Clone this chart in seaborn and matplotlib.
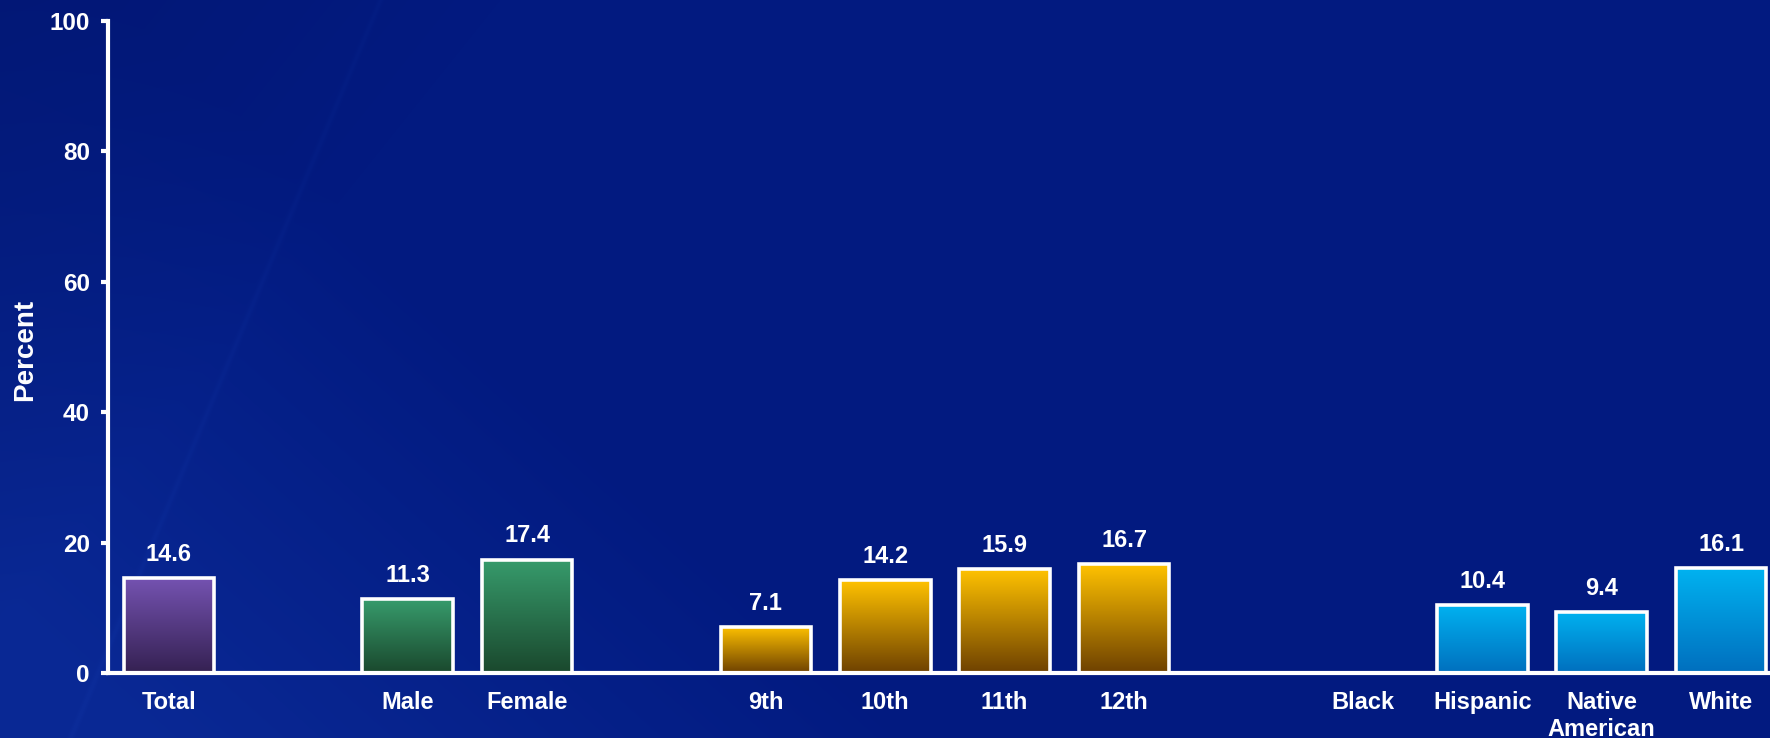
import numpy as np
import pandas as pd
import matplotlib
matplotlib.use("Agg")
import matplotlib.pyplot as plt
from matplotlib.colors import to_rgb
import seaborn as sns

# data
categories = ["Total", "", "Male", "Female", " ", "9th", "10th", "11th", "12th", "  ",
              "Black", "Hispanic", "Native\nAmerican", "White"]
values = [14.6, None, 11.3, 17.4, None, 7.1, 14.2, 15.9, 16.7, None,
          None, 10.4, 9.4, 16.1]
groups = ["total", None, "sex", "sex", None, "grade", "grade", "grade", "grade", None,
          "race", "race", "race", "race"]
yticks = [0, 20, 40, 60, 80, 100]

# top / bottom colours of the bar gradients
grad = {
    "total": ("#7553b2", "#352152"),
    "sex": ("#379b6c", "#1a482d"),
    "grade": ("#ffc200", "#6e4100"),
    "race": ("#00b2f0", "#006fbe"),
}

df = pd.DataFrame({"cat": categories, "pct": values, "grp": groups}).dropna()

sns.set_style("white")
plt.rcParams["font.family"] = ["Liberation Sans", "DejaVu Sans"]
plt.rcParams["font.weight"] = "bold"

fig = plt.figure(figsize=(17.7, 7.38), dpi=100)

# background: dark blue with a lighter diagonal area at lower left
bg = fig.add_axes([0, 0, 1, 1], zorder=-5)
H, W = 738, 1770
yy, xx = np.mgrid[0:H, 0:W]
base = np.array(to_rgb("#021a80"))
light = np.array(to_rgb("#0b2b98"))
dark = np.array(to_rgb("#02156e"))
v = yy - 0.9 * xx
t = np.clip((v + 100) / 700, 0, 1) * 0.85
streak = np.exp(-((xx - (380 - 0.42 * yy)) / 3.0) ** 2) * 0.2
t = np.clip(t + streak, 0, 1)[..., None]
tl = (np.clip(1 - (xx + 0.8 * yy) / 500, 0, 1) * 0.6)[..., None]
img = base * (1 - t) + light * t
img = img * (1 - tl) + dark * tl
bg.imshow(img, aspect="auto", extent=[0, 1, 0, 1])
bg.set_axis_off()

ax = fig.add_axes([108 / 1770, 65 / 738, 1 - 108 / 1770, 652 / 738])
ax.set_facecolor("none")
sns.barplot(data=df, x="cat", y="pct", order=categories, width=0.76,
            color="#ffffff", edgecolor="white", linewidth=2.6, ax=ax, zorder=3)

for p in ax.patches:
    x0, w, h = p.get_x(), p.get_width(), p.get_height()
    idx = int(round(x0 + w / 2))
    top, bot = grad[groups[idx]]
    c = np.linspace(0, 1, 100)[:, None, None]
    g = np.array(to_rgb(top)) * (1 - c) + np.array(to_rgb(bot)) * c
    im = ax.imshow(g, extent=[x0, x0 + w, 0, h], aspect="auto", zorder=2, origin="upper")
    im.set_clip_path(p)
    p.set_facecolor("none")
    ax.annotate(f"{values[idx]:.1f}", (x0 + w / 2, h), xytext=(0, 17),
                textcoords="offset points", ha="center", va="center",
                color="white", fontsize=17, fontweight="bold")

ax.set_xlim(-0.51, 13.41)
ax.set_ylim(0, 100)
ax.set_yticks(yticks)
ax.set_xticks(range(len(categories)))
ax.set_xticklabels(categories)
ax.set_xlabel("")
ax.set_ylabel("Percent", color="white", fontsize=20, fontweight="bold")
ax.yaxis.set_label_coords(-0.042, 0.495)

for s in ["top", "right"]:
    ax.spines[s].set_visible(False)
for s in ["left", "bottom"]:
    ax.spines[s].set_color("white")
    ax.spines[s].set_linewidth(3)
    ax.spines[s].set_zorder(4)

ax.tick_params(axis="y", colors="white", labelsize=17.5, length=5, width=3,
               pad=8, left=True)
ax.tick_params(axis="x", colors="white", labelsize=17, length=0, pad=13)
for lab in ax.get_xticklabels() + ax.get_yticklabels():
    lab.set_fontweight("bold")

fig.savefig("out.png", dpi=100)
